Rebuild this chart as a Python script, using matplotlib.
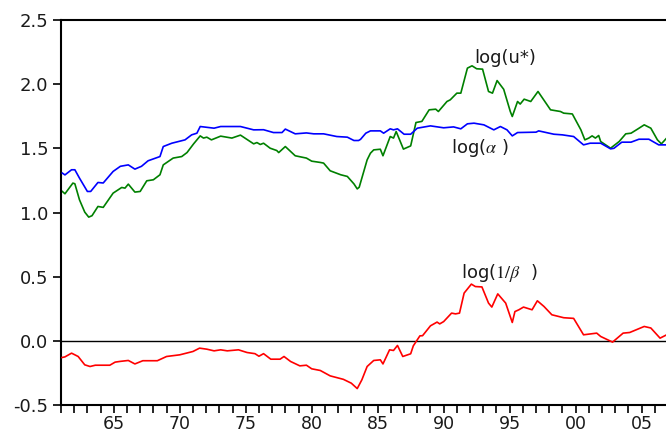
import matplotlib
matplotlib.use("Agg")
import matplotlib.pyplot as plt
from matplotlib.ticker import MultipleLocator, FixedLocator, FixedFormatter

plt.rcParams['font.family'] = ['DejaVu Sans']
plt.rcParams['mathtext.fontset'] = 'stix'

# log(alpha) - blue
alpha_x = [61.1, 61.3, 61.8, 62.05, 62.4, 63.0, 63.25, 63.8, 64.2, 64.95, 65.5, 66.1, 66.6, 67.1,
           67.6, 68.5, 68.75, 69.4, 70.4, 70.9, 71.3, 71.55, 72.6, 73.1, 74.6, 75.6, 76.35, 77.1,
           77.75, 78.0, 78.75, 79.6, 80.15, 80.9, 81.9, 82.7, 83.2, 83.55, 83.7, 84.1, 84.45, 85.2,
           85.45, 85.95, 86.2, 86.5, 87.0, 87.5, 88.0, 89.0, 90.0, 90.75, 91.3, 91.8, 92.3, 93.05,
           93.8, 94.3, 94.8, 95.2, 95.6, 97.0, 97.2, 98.35, 99.0, 99.85, 100.6, 101.1, 101.9,
           102.65, 102.9, 103.5, 104.2, 104.8, 105.55, 106.3, 106.9]
alpha_y = [1.307, 1.293, 1.333, 1.333, 1.268, 1.164, 1.164, 1.234, 1.23, 1.32, 1.36, 1.371, 1.338,
           1.36, 1.403, 1.436, 1.514, 1.54, 1.566, 1.605, 1.618, 1.67, 1.657, 1.67, 1.67, 1.644,
           1.645, 1.623, 1.623, 1.65, 1.613, 1.62, 1.613, 1.613, 1.592, 1.587, 1.561, 1.561, 1.57,
           1.618, 1.636, 1.636, 1.618, 1.652, 1.644, 1.652, 1.61, 1.61, 1.657, 1.675, 1.66, 1.667,
           1.652, 1.691, 1.696, 1.683, 1.644, 1.67, 1.644, 1.597, 1.623, 1.626, 1.636, 1.61, 1.605,
           1.592, 1.527, 1.54, 1.54, 1.496, 1.5, 1.548, 1.548, 1.571, 1.571, 1.527, 1.527]

# log(u*) - green
u_x = [61.1, 61.3, 61.9, 62.05, 62.4, 62.8, 63.1, 63.35, 63.8, 64.2, 64.95, 65.6, 65.85, 66.1,
       66.6, 67.0, 67.5, 68.0, 68.5, 68.75, 69.5, 70.15, 70.55, 71.05, 71.55, 71.8, 72.05, 72.4,
       73.1, 73.95, 74.6, 75.6, 75.85, 76.1, 76.35, 76.85, 77.35, 77.5, 78.0, 78.75, 79.6, 80.0,
       80.65, 80.9, 81.4, 82.2, 82.7, 83.2, 83.45, 83.6, 84.2, 84.45, 84.7, 85.2, 85.4, 85.95,
       86.2, 86.4, 86.95, 87.5, 87.9, 88.35, 88.9, 89.4, 89.6, 90.25, 90.5, 91.0, 91.3, 91.8,
       92.15, 92.5, 92.95, 93.4, 93.7, 94.05, 94.55, 95.05, 95.2, 95.6, 95.8, 96.1, 96.6, 97.15,
       98.1, 98.85, 99.1, 99.75, 100.4, 100.7, 101.0, 101.25, 101.5, 101.75, 101.9, 102.65,
       103.3, 103.8, 104.2, 104.7, 105.2, 105.7, 106.2, 106.5, 106.9]
u_y = [1.164, 1.146, 1.229, 1.224, 1.099, 1.003, 0.964, 0.975, 1.047, 1.04, 1.151, 1.195, 1.19,
       1.221, 1.159, 1.164, 1.247, 1.255, 1.294, 1.371, 1.424, 1.436, 1.467, 1.535, 1.597, 1.58,
       1.587, 1.566, 1.595, 1.58, 1.603, 1.535, 1.545, 1.53, 1.54, 1.501, 1.483, 1.467, 1.514,
       1.442, 1.424, 1.4, 1.39, 1.385, 1.325, 1.294, 1.281, 1.223, 1.184, 1.197, 1.41, 1.462,
       1.488, 1.493, 1.442, 1.592, 1.58, 1.631, 1.494, 1.519, 1.701, 1.71, 1.8, 1.805, 1.787,
       1.865, 1.878, 1.93, 1.93, 2.125, 2.143, 2.12, 2.117, 1.943, 1.93, 2.028, 1.96, 1.787,
       1.748, 1.865, 1.845, 1.883, 1.865, 1.943, 1.8, 1.787, 1.774, 1.768, 1.644, 1.566, 1.58,
       1.597, 1.58, 1.6, 1.553, 1.501, 1.553, 1.613, 1.618, 1.65, 1.683, 1.657, 1.566, 1.535, 1.58]

# log(1/beta) - red
b_x = [61.08, 61.3, 61.8, 62.3, 62.8, 63.2, 63.6, 64.7, 65.1, 65.5, 66.1, 66.6, 67.2, 68.3, 69.0,
       70.0, 71.0, 71.5, 72.05, 72.6, 73.1, 73.6, 74.45, 75.1, 75.7, 76.0, 76.35, 76.9, 77.6,
       77.9, 78.4, 79.1, 79.6, 80.0, 80.65, 81.4, 82.4, 83.0, 83.45, 83.8, 84.2, 84.7, 85.2,
       85.4, 85.9, 86.2, 86.5, 86.9, 87.5, 87.7, 88.2, 88.4, 89.0, 89.5, 89.7, 90.0, 90.6, 90.9,
       91.2, 91.55, 92.1, 92.4, 92.9, 93.4, 93.65, 94.1, 94.7, 95.2, 95.4, 95.7, 96.05, 96.7,
       97.1, 97.6, 98.2, 99.1, 99.85, 100.6, 101.6, 101.9, 102.8, 103.6, 104.1, 105.2, 105.7,
       106.4, 106.9]
b_y = [-0.13, -0.125, -0.096, -0.122, -0.187, -0.2, -0.19, -0.19, -0.166, -0.16, -0.153, -0.18,
       -0.155, -0.155, -0.122, -0.109, -0.083, -0.057, -0.065, -0.078, -0.07, -0.078, -0.07,
       -0.091, -0.1, -0.12, -0.1, -0.143, -0.143, -0.122, -0.161, -0.195, -0.19, -0.218, -0.231,
       -0.273, -0.3, -0.33, -0.372, -0.304, -0.2, -0.153, -0.148, -0.18, -0.07, -0.075, -0.036,
       -0.122, -0.101, -0.039, 0.039, 0.04, 0.117, 0.146, 0.132, 0.15, 0.216, 0.21, 0.216, 0.372,
       0.442, 0.423, 0.42, 0.294, 0.263, 0.366, 0.294, 0.143, 0.228, 0.242, 0.263, 0.242, 0.312,
       0.268, 0.203, 0.18, 0.175, 0.047, 0.06, 0.034, -0.01, 0.06, 0.065, 0.112, 0.1, 0.021, 0.047]

year_ticks = [65, 70, 75, 80, 85, 90, 95, 100, 105]
year_labels = ["65", "70", "75", "80", "85", "90", "95", "00", "05"]
y_ticks = [-0.5, 0.0, 0.5, 1.0, 1.5, 2.0, 2.5]
y_labels = ["-0.5", "0.0", "0.5", "1.0", "1.5", "2.0", "2.5"]

fig = plt.figure(figsize=(6.66, 4.33), dpi=100)
ax = fig.add_axes([61/666, 1 - 405/433, 605/666, (405 - 20)/433])

ax.axhline(0, color='black', lw=1.0, zorder=1)
ax.plot(alpha_x, alpha_y, color='#0000ff', lw=1.2, zorder=3)
ax.plot(u_x, u_y, color='#008000', lw=1.2, zorder=2)
ax.plot(b_x, b_y, color='#ff0000', lw=1.2, zorder=3)

ax.set_xlim(61, 106.85)
ax.set_ylim(-0.5, 2.5)

ax.xaxis.set_major_locator(FixedLocator(year_ticks))
ax.xaxis.set_major_formatter(FixedFormatter(year_labels))
ax.xaxis.set_minor_locator(MultipleLocator(1))
ax.yaxis.set_major_locator(FixedLocator(y_ticks))
ax.yaxis.set_major_formatter(FixedFormatter(y_labels))

ax.tick_params(axis='x', which='both', direction='out', length=6, width=1.2, labelsize=12.5, pad=1,
               labelcolor='#1a1a1a')
ax.tick_params(axis='y', which='major', direction='out', length=6, width=1.2, labelsize=13, pad=3,
               labelcolor='#1a1a1a')
ax.tick_params(axis='y', which='minor', left=False)

for s in ['left', 'bottom', 'top']:
    ax.spines[s].set_linewidth(1.5)
ax.spines['right'].set_visible(False)

ax.text(94.65, 2.205, "log(u*)", fontsize=13, ha='center', va='center', color='#1a1a1a')
ax.text(92.75, 1.50, r"log($\alpha$ )", fontsize=13, ha='center', va='center', color='#1a1a1a')
ax.text(94.2, 0.53, r"log($1/\beta$  )", fontsize=13, ha='center', va='center', color='#1a1a1a')

fig.savefig("out.png", dpi=100)
